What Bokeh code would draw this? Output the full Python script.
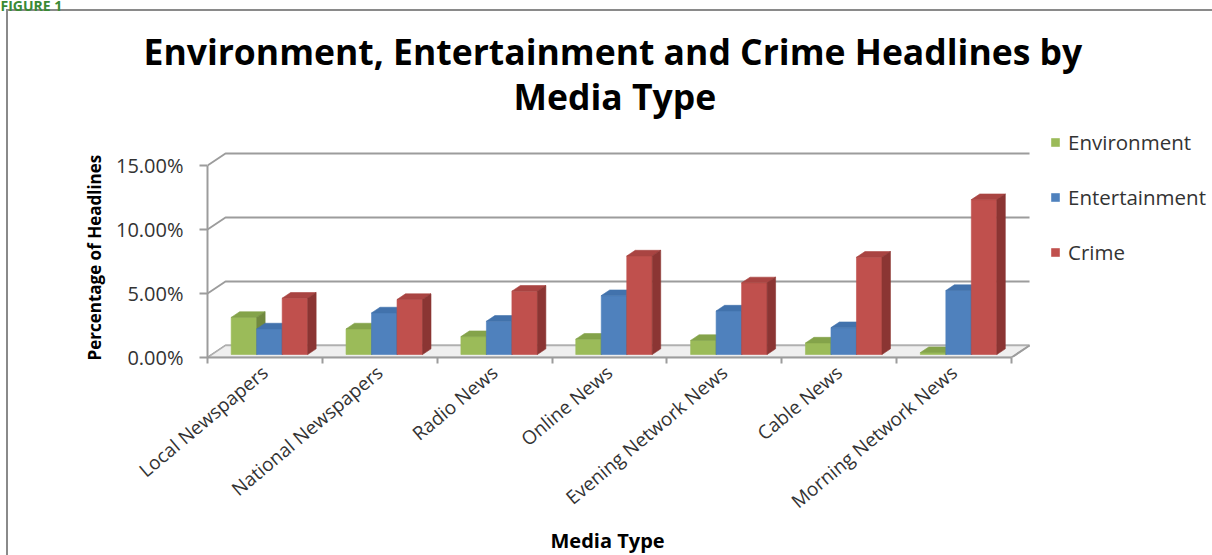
import math
from bokeh.plotting import figure
from bokeh.models import (Range1d, FixedTicker, PrintfTickFormatter, Legend,
                          LegendItem, ColumnDataSource, Title)
from bokeh.embed import file_html
from bokeh.resources import INLINE

# ---------------- data ----------------
categories = ["Local Newspapers", "National Newspapers", "Radio News", "Online News",
              "Evening Network News", "Cable News", "Morning Network News"]
environment = [2.9, 2.0, 1.4, 1.2, 1.1, 0.9, 0.15]
entertainment = [2.0, 3.25, 2.6, 4.6, 3.4, 2.1, 5.0]
crime = [4.4, 4.3, 4.95, 7.7, 5.6, 7.6, 12.1]
series_names = ["Environment", "Entertainment", "Crime"]
y_ticks = [0, 5, 10, 15]

# ---------------- style ----------------
front_colors = ["#9BBB59", "#4F81BD", "#C0504D"]
top_colors = ["#84A34A", "#4272AC", "#A94442"]
side_colors = ["#71893F", "#375F8E", "#8B3533"]
FONT = "Open Sans"

W, H = 1212, 555
FL, FR, FT, FB = 207, 1212, 97, 357
KX = 114.86   # px per category
KY = 12.8     # px per percent
DX = 18.0 / KX    # depth offset of back wall (data units)
DY = 12.0 / KY
F0 = 0.25         # depth of bar front plane
FD = 0.47         # bar depth
BW = 0.222        # bar width

p = figure(width=W, height=H, output_backend="svg", toolbar_location=None,
           x_range=Range1d(0, (FR - FL) / KX), y_range=Range1d(0, (FB - FT) / KY),
           min_border_left=FL, min_border_right=W - FR, min_border_top=FT,
           min_border_bottom=H - FB)
p.outline_line_color = None
p.grid.visible = False
p.background_fill_color = None
p.border_fill_color = None
p.styles = {
    "background": ("linear-gradient(#8a8a8a,#8a8a8a) 6px 9px / 1206px 2px no-repeat,"
                   "linear-gradient(#8a8a8a,#8a8a8a) 6px 9px / 2px 546px no-repeat, white"),
}

n = len(categories)
GRID = "#9c9c9c"

# back/side wall gridlines
p.multi_line(xs=[[0, DX, n + DX] for t in y_ticks],
             ys=[[t, t + DY, t + DY] for t in y_ticks],
             line_color=GRID, line_width=2)

# floor
p.patch(x=[0, n, n + DX, DX], y=[0, 0, DY, DY], fill_color="#efefef",
        line_color="#b0b0b0", line_width=1.5)

# bars (painter's order)
xs, ys, fc = [], [], []
series_vals = [environment, entertainment, crime]
for i in range(n):
    c = i + 0.5
    for j, vals in enumerate(series_vals):
        v = vals[i]
        x0 = c + (j - 1) * BW - BW / 2 + F0 * DX
        x1 = x0 + BW
        yb = F0 * DY
        yt = v + F0 * DY
        ddx, ddy = FD * DX, FD * DY
        xs.append([x0, x1, x1, x0]); ys.append([yb, yb, yt, yt]); fc.append(front_colors[j])
        xs.append([x0, x1, x1 + ddx, x0 + ddx]); ys.append([yt, yt, yt + ddy, yt + ddy]); fc.append(top_colors[j])
        xs.append([x1, x1 + ddx, x1 + ddx, x1]); ys.append([yb, yb + ddy, yt + ddy, yt]); fc.append(side_colors[j])

src = ColumnDataSource(dict(xs=xs, ys=ys, fc=fc))
bars = p.patches("xs", "ys", source=src, fill_color="fc", line_color="fc", line_width=0.6)

# floor right edge
p.line(x=[n, n + DX], y=[0, DY], line_color=GRID, line_width=2)

# ---------------- axes ----------------
ya = p.yaxis[0]
ya.ticker = FixedTicker(ticks=y_ticks)
ya.formatter = PrintfTickFormatter(format="%.2f%%")
ya.bounds = (0, 15)
ya.axis_line_color = GRID
ya.axis_line_width = 2
ya.major_tick_line_color = GRID
ya.major_tick_line_width = 2
ya.major_tick_out = 8
ya.major_tick_in = 0
ya.minor_tick_line_color = None
ya.major_label_standoff = 16
ya.major_label_text_font = FONT
ya.major_label_text_font_size = "20px"
ya.major_label_text_color = "#333333"

xa = p.xaxis[0]
centers = [i + 0.5 for i in range(n)]
xa.ticker = FixedTicker(ticks=centers, minor_ticks=list(range(n + 1)))
xa.major_label_overrides = {c: name for c, name in zip(centers, categories)}
xa.bounds = (0, n)
xa.axis_line_color = GRID
xa.axis_line_width = 2
xa.major_tick_line_color = None
xa.major_tick_out = 0
xa.major_tick_in = 0
xa.minor_tick_line_color = GRID
xa.minor_tick_line_width = 2
xa.minor_tick_out = 6
xa.minor_tick_in = 0
xa.major_label_orientation = math.radians(40)
xa.major_label_standoff = 6
xa.major_label_text_font = FONT
xa.major_label_text_font_size = "19px"
xa.major_label_text_color = "#333333"

# ---------------- titles (placed in the side panels) ----------------
p.title.text = ""
p.title.standoff = 0
# innermost -> outermost in the "above" panel
p.add_layout(Title(text="Media Type", align="left", offset=513 - FL, vertical_align="middle",
                   text_font=FONT, text_font_style="bold", text_font_size="35.5px",
                   text_color="black", standoff=-46.7), "above")
p.add_layout(Title(text="Environment, Entertainment and Crime Headlines by", align="left",
                   offset=143 - FL, vertical_align="middle",
                   text_font=FONT, text_font_style="bold", text_font_size="35.5px",
                   text_color="black", standoff=37.3), "above")
p.add_layout(Title(text="FIGURE 1", align="left", offset=0 - FL, vertical_align="middle",
                   text_font=FONT, text_font_style="bold", text_font_size="14px",
                   text_color="#3a8a35", standoff=-17), "above")

p.add_layout(Title(text="Percentage of Headlines", align="left", offset=-3,
                   vertical_align="middle", text_font=FONT, text_font_style="bold",
                   text_font_size="17px", text_color="black", standoff=11), "left")

p.add_layout(Title(text="Media Type", align="left", offset=550 - FL, vertical_align="middle",
                   text_font=FONT, text_font_style="bold", text_font_size="20px",
                   text_color="black", standoff=-1), "below")

# ---------------- legend ----------------
items = [LegendItem(label=name, renderers=[bars], index=3 * j)
         for j, name in enumerate(series_names)]
legend = Legend(items=items, location=(1050 - FL, 91), orientation="vertical",
                label_text_font=FONT, label_text_font_size="20.5px", label_text_color="#333333",
                glyph_width=10, glyph_height=10, label_height=24, spacing=27,
                padding=0, margin=0, border_line_color=None, background_fill_alpha=0,
                label_standoff=8)
p.add_layout(legend, "center")

open("out.html", "w").write(file_html(p, INLINE))
